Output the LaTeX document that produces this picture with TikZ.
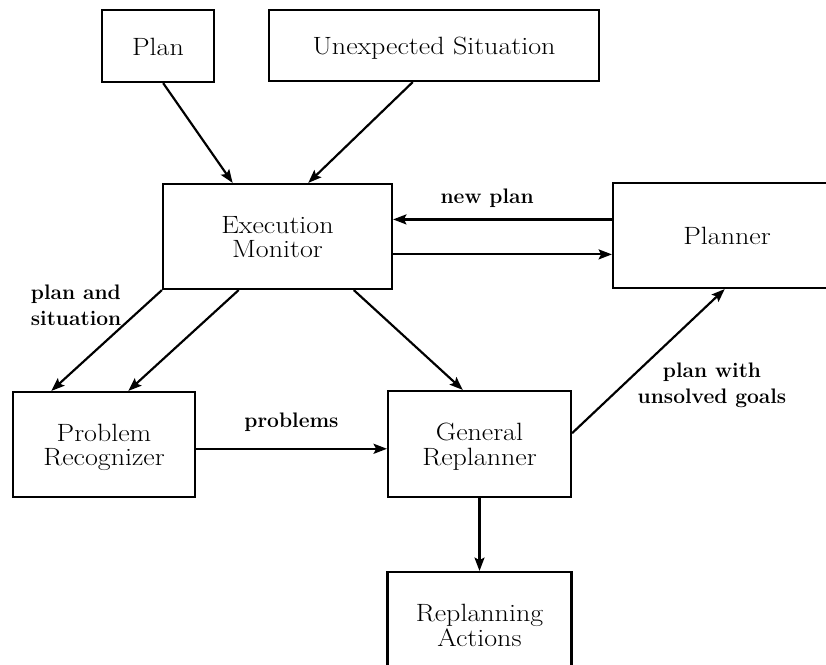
\documentclass[tikz,border=0pt]{standalone}
\usepackage{graphicx}
\usetikzlibrary{calc,arrows.meta}

% text inside the boxes (set a little below the strut centre)
\newcommand\boxlabel[1]{\raisebox{-2.5pt}[\height][\depth]{\scalebox{1.12}[1]{\fontsize{15}{14.8}\selectfont\begin{tabular}{@{}c@{}}#1\end{tabular}}}}
% text beside the connectors
\newcommand\flowlabel[2][c]{{\bfseries\fontsize{12.6}{15.6}\selectfont\begin{tabular}{@{}#1@{}}#2\end{tabular}}}

\tikzset{
  module/.style={draw, line width=1.3pt, rectangle, inner sep=0pt, align=center},
  flow/.style={line width=1.3pt, -{Stealth[length=8pt,width=6pt,inset=1.5pt]}},
}

\begin{document}
\begin{tikzpicture}[x=0.6pt, y=-0.6pt]
  \useasboundingbox (0,0) rectangle (826,665);

  % boxes
  \node[module, minimum width=112*0.6pt, minimum height=72*0.6pt]  (plan) at (158,46)    {\boxlabel{Plan}};
  \node[module, minimum width=330*0.6pt, minimum height=71*0.6pt]  (unexp) at (434,45.5) {\boxlabel{Unexpected Situation}};
  \node[module, minimum width=229*0.6pt, minimum height=105*0.6pt] (exec) at (277.5,236.5) {\boxlabel{Execution\\Monitor}};
  \node[module, minimum width=228*0.6pt, minimum height=105*0.6pt] (planner) at (727,235.5) {\boxlabel{Planner}};
  \node[module, minimum width=182*0.6pt, minimum height=105*0.6pt] (recog) at (104,444.5) {\boxlabel{Problem\\Recognizer}};
  \node[module, minimum width=183*0.6pt, minimum height=106*0.6pt] (replan) at (479.5,444) {\boxlabel{General\\Replanner}};
  \node[module, minimum width=184*0.6pt, minimum height=106*0.6pt] (actions) at (479.5,625) {\boxlabel{Replanning\\Actions}};

  % inputs to the execution monitor
  \draw[flow] ($(plan.south west)!0.545!(plan.south east)$) -- ($(exec.north west)!0.306!(exec.north east)$);
  \draw[flow] ($(unexp.south west)!0.436!(unexp.south east)$) -- ($(exec.north west)!0.633!(exec.north east)$);

  % exchange with the planner
  \coordinate (np) at ($(planner.north west)!0.35!(planner.south west)$);
  \coordinate (tp) at ($(exec.north east)!0.667!(exec.south east)$);
  \draw[flow] (np) -- node[pos=0.57, above=1pt] {\flowlabel{new plan}} (exec.east |- np);
  \draw[flow] (tp) -- (planner.west |- tp);

  % monitor to recognizer and replanner
  \draw[flow] (exec.south west) -- ($(recog.north west)!0.214!(recog.north east)$);
  \draw[flow] ($(exec.south west)!0.332!(exec.south east)$) -- ($(recog.north west)!0.632!(recog.north east)$);
  \draw[flow] ($(exec.south west)!0.83!(exec.south east)$) -- ($(replan.north west)!0.41!(replan.north east)$);
  \node[anchor=west] (lblsit) at (25,307) {\flowlabel[l]{plan and\\situation}};

  % recognizer to replanner
  \coordinate (pr) at ($(recog.north east)!0.54!(recog.south east)$);
  \draw[flow] (pr) -- node[above=4pt] {\flowlabel{problems}} (replan.west |- pr);

  % replanner back to the planner
  \draw[flow] ($(replan.north east)!0.4!(replan.south east)$) -- ($(planner.south west)!0.49!(planner.south east)$);
  \node (lblgoals) at (712,385) {\flowlabel{plan with\\unsolved goals}};

  % replanner to its actions
  \draw[flow] (replan.south) -- (actions.north);
\end{tikzpicture}
\end{document}
